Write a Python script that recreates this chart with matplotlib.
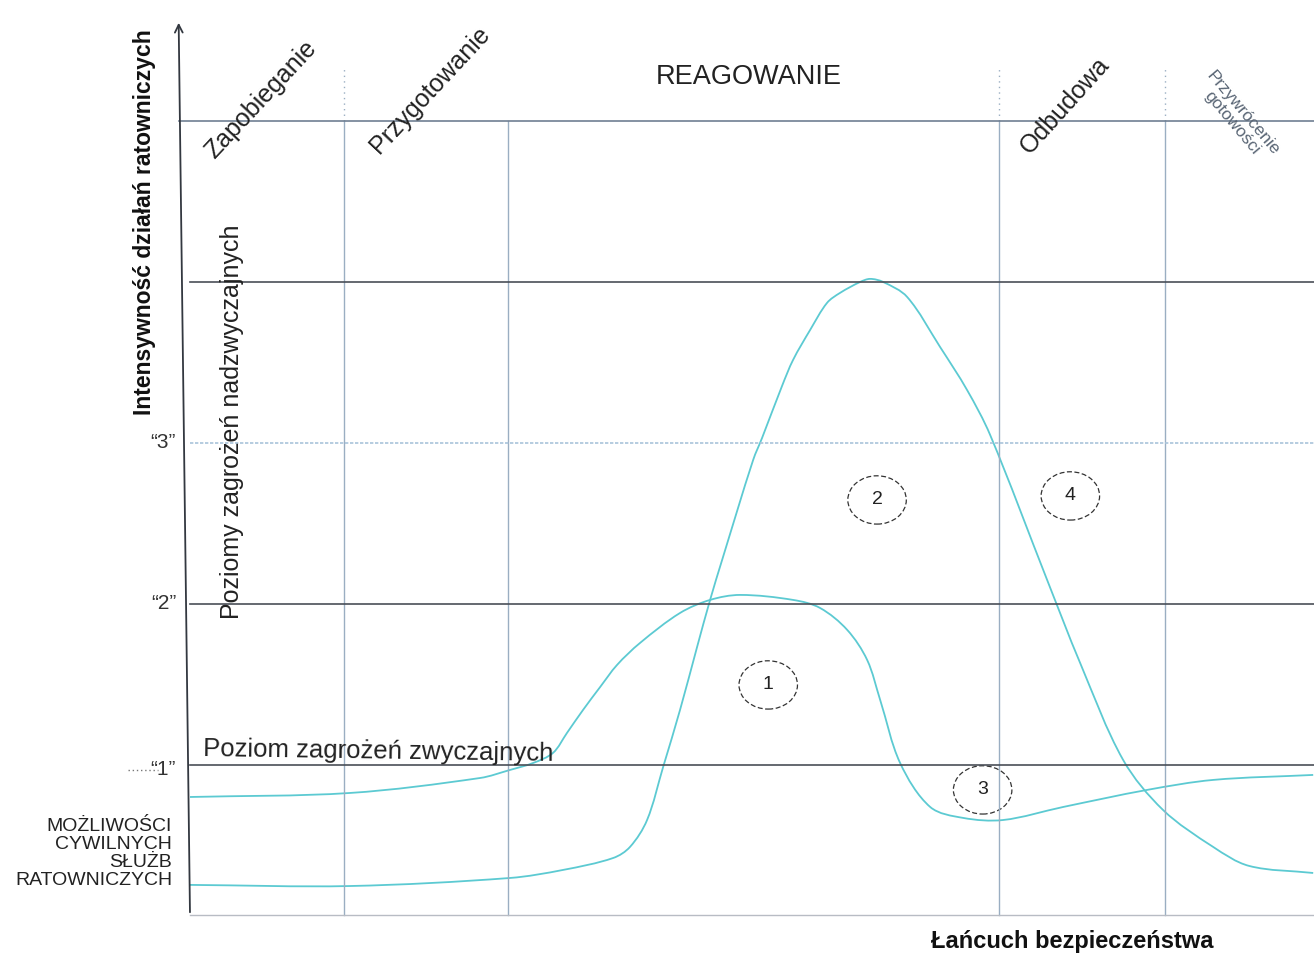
import matplotlib
matplotlib.use("Agg")
import math
import matplotlib.pyplot as plt
from matplotlib.patches import Ellipse, PathPatch
from matplotlib.path import Path

# ---- data (x: phase units, y: threat level) ----
phase_bounds = [0.95, 1.96, 4.98, 6.0]
level_solid = [1, 2, 4, 5]
level_dotted = [3]
level_labels = ["\u201c1\u201d", "\u201c2\u201d", "\u201c3\u201d"]
level_label_y = [0.97, 2.0, 3.0]

curve1_x = [0.0, 0.985, 1.786, 1.970, 2.112, 2.235, 2.321, 2.420, 2.525, 2.629,
            2.771, 3.017, 3.202, 3.387, 3.713, 3.879, 4.046, 4.169, 4.249, 4.372,
            4.557, 4.760, 5.006, 5.376, 5.893, 6.299, 6.915]
curve1_y = [0.801, 0.826, 0.919, 0.969, 1.012, 1.075, 1.199, 1.342, 1.484, 1.621,
            1.758, 1.944, 2.025, 2.056, 2.025, 1.975, 1.839, 1.652, 1.404, 1.012,
            0.739, 0.671, 0.658, 0.739, 0.845, 0.907, 0.938]

curve2_x = [0.0, 0.985, 1.970, 2.297, 2.605, 2.709, 2.814, 2.913, 3.017, 3.122,
            3.202, 3.276, 3.467, 3.522, 3.645, 3.713, 3.818, 3.922, 4.002, 4.126,
            4.187, 4.267, 4.415, 4.618, 4.784, 4.926, 5.277, 5.480, 5.745, 5.991,
            6.299, 6.520, 6.915]
curve2_y = [0.255, 0.248, 0.298, 0.348, 0.422, 0.491, 0.658, 0.988, 1.342, 1.733,
            2.025, 2.273, 2.894, 3.031, 3.354, 3.516, 3.702, 3.870, 3.932, 4.000,
            4.019, 4.000, 3.907, 3.596, 3.329, 3.050, 2.149, 1.634, 1.031, 0.720,
            0.491, 0.373, 0.329]

region_ids = ["1", "2", "3", "4"]
region_x = [3.56, 4.23, 4.88, 5.42]
region_y = [1.497, 2.646, 0.845, 2.671]

phase_names = ["Zapobieganie", "Przygotowanie", "REAGOWANIE", "Odbudowa",
               "Przywrócenie\ngotowości"]

# ---- figure ----
fig = plt.figure(figsize=(13.14, 9.55), dpi=100)
ax = fig.add_axes([190 / 1314, 40 / 955, 1124 / 1314, 895 / 955])
ax.set_xlim(0, 6.92)
ax.set_ylim(0.068, 5.627)
ax.axis("off")

dark = "#4a4f57"
grid = "#9aaec2"
cyan = "#5ccad2"
font = ["Liberation Sans", "DejaVu Sans"]
y_bot = 0.068


def smooth_path(xs, ys):
    """Chord-length Catmull-Rom Bezier path through the read points (drawing only)."""
    pts = list(zip(xs, ys))
    n = len(pts)
    t = [0.0]
    for i in range(1, n):
        d = math.hypot(pts[i][0] - pts[i - 1][0], pts[i][1] - pts[i - 1][1])
        t.append(t[-1] + max(d, 1e-6))
    tang = []
    for i in range(n):
        a = max(i - 1, 0)
        b = min(i + 1, n - 1)
        dt = t[b] - t[a]
        tang.append(((pts[b][0] - pts[a][0]) / dt, (pts[b][1] - pts[a][1]) / dt))
    verts = [pts[0]]
    codes = [Path.MOVETO]
    for i in range(n - 1):
        h = (t[i + 1] - t[i]) / 3
        c1 = (pts[i][0] + tang[i][0] * h, pts[i][1] + tang[i][1] * h)
        c2 = (pts[i + 1][0] - tang[i + 1][0] * h, pts[i + 1][1] - tang[i + 1][1] * h)
        verts += [c1, c2, pts[i + 1]]
        codes += [Path.CURVE4] * 3
    return Path(verts, codes)


# vertical phase lines
for xb in phase_bounds:
    ax.plot([xb, xb], [y_bot, 5.0], color=grid, lw=1.0, clip_on=False)
for xb in [phase_bounds[0], phase_bounds[2], phase_bounds[3]]:
    ax.plot([xb, xb], [5.0, 5.32], color=grid, lw=1.0, ls=(0, (1, 3)), clip_on=False)

# horizontal level lines
for lv in level_solid:
    c = "#6f7f92" if lv == 5 else dark
    x0 = -0.07 if lv == 5 else 0.0
    ax.plot([x0, 6.92], [lv, lv], color=c, lw=1.2, clip_on=False)
for lv in level_dotted:
    ax.plot([0, 6.92], [lv, lv], color="#a9c3da", lw=1.2, ls=(0, (2, 1)), clip_on=False)
# bottom base line
ax.plot([0, 6.92], [y_bot, y_bot], color="#b8bcc4", lw=1.0, clip_on=False)

# y axis with arrow
ax.annotate("", xy=(-0.07, 5.627), xytext=(0, y_bot),
            arrowprops=dict(arrowstyle="->", color="#333840", lw=1.3,
                            mutation_scale=14), annotation_clip=False)

# dots before "1"
ax.plot([-0.38, -0.2], [0.97, 0.97], color="#777", lw=1.0, ls=(0, (1, 2)),
        clip_on=False)

# curves
for cx, cy in [(curve1_x, curve1_y), (curve2_x, curve2_y)]:
    ax.add_patch(PathPatch(smooth_path(cx, cy), fill=False, ec=cyan, lw=1.3,
                           clip_on=False))

# circled region numbers
for rid, rx, ry in zip(region_ids, region_x, region_y):
    ax.add_patch(Ellipse((rx, ry), 0.36, 0.30, fill=False, ec="#333",
                         lw=0.9, ls=(0, (4, 2)), clip_on=False))
    ax.text(rx, ry, rid, ha="center", va="center", fontsize=14,
            family=font, color="#222")

# level labels
for lab, ly in zip(level_labels, level_label_y):
    ax.text(-0.085, ly, lab, ha="right", va="center", fontsize=15,
            family=font, color="#333")

# axis titles
ax.text(-0.28, 4.373, "Intensywność działań ratowniczych", rotation=90,
        ha="center", va="center", fontsize=16.5, fontweight="bold",
        family=["Liberation Sans Narrow", "Liberation Sans", "DejaVu Sans"],
        color="#111")
ax.text(0.26, 3.13, "Poziomy zagrożeń nadzwyczajnych", rotation=90,
        ha="center", va="center", fontsize=18, family=font, color="#222")
ax.text(0.08, 0.995, "Poziom zagrożeń zwyczajnych", ha="left", va="bottom",
        fontsize=18.5, family=font, color="#222", rotation=-0.8)
ax.text(-0.11, 0.45, "MOŻLIWOŚCI\nCYWILNYCH\nSŁUŻB\nRATOWNICZYCH",
        ha="right", va="center", fontsize=14, family=font, color="#222",
        multialignment="right", linespacing=1.1)
ax.text(5.43, -0.099, "Łańcuch bezpieczeństwa", ha="center", va="center",
        fontsize=17, fontweight="bold", family=font, color="#111")

# phase names
ax.text(0.44, 5.13, phase_names[0], rotation=47, ha="center", va="center",
        fontsize=18, family=font, color="#222", rotation_mode="anchor")
ax.text(1.48, 5.193, phase_names[1], rotation=47, ha="center", va="center",
        fontsize=18, family=font, color="#222", rotation_mode="anchor")
ax.text(3.44, 5.273, phase_names[2], ha="center", va="center",
        fontsize=19.5, family=font, color="#222")
ax.text(5.39, 5.093, phase_names[3], rotation=48, ha="center", va="center",
        fontsize=18, family=font, color="#222", rotation_mode="anchor")
ax.text(6.45, 5.02, phase_names[4], rotation=-50, ha="center", va="center",
        fontsize=12.5, family=font, color="#5a6675", rotation_mode="anchor",
        linespacing=1.0)

fig.savefig("out.png", dpi=100, facecolor="white")
